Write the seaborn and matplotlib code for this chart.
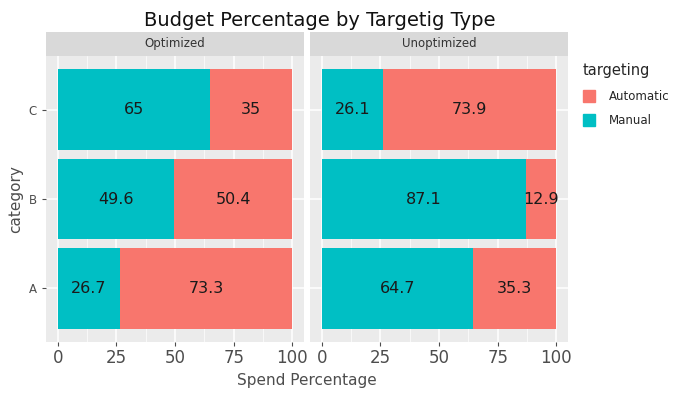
import matplotlib
matplotlib.use('Agg')
import matplotlib.pyplot as plt
from matplotlib.patches import Patch
import pandas as pd
import seaborn as sns

# 数据
categories = ['C', 'B', 'A']
panels = ['Optimized', 'Unoptimized']
manual_opt = [65, 49.6, 26.7]
auto_opt = [35, 50.4, 73.3]
manual_unopt = [26.1, 87.1, 64.7]
auto_unopt = [73.9, 12.9, 35.3]
x_ticks = [0, 25, 50, 75, 100]

teal = '#00BFC4'
salmon = '#F8766D'

sns.set_style('white')
plt.rcParams['font.family'] = ['DejaVu Sans']

fig = plt.figure(figsize=(6.98, 3.98), dpi=100)
W, H = 698, 398
panel_boxes = [(46, 304), (310, 568)]
top, bottom = 56, 342
strip_top = 32

data = {
    'Optimized': (manual_opt, auto_opt),
    'Unoptimized': (manual_unopt, auto_unopt),
}

for (x0, x1), name in zip(panel_boxes, panels):
    ax = fig.add_axes([x0 / W, 1 - bottom / H, (x1 - x0) / W, (bottom - top) / H])
    manual, auto = data[name]
    df = pd.DataFrame({'category': categories, 'Manual': manual, 'Automatic': auto})
    df['total'] = df['Manual'] + df['Automatic']
    ax.set_facecolor('#EBEBEB')
    # 网格
    for t in x_ticks:
        ax.axvline(t, color='white', lw=1.1, zorder=0)
    for t in [12.5, 37.5, 62.5, 87.5]:
        ax.axvline(t, color='white', lw=0.5, zorder=0)
    for i in range(len(categories)):
        ax.axhline(i, color='white', lw=1.1, zorder=0)
    sns.barplot(data=df, y='category', x='total', order=categories, color=salmon,
                width=0.9, saturation=1, linewidth=0, ax=ax, zorder=2)
    sns.barplot(data=df, y='category', x='Manual', order=categories, color=teal,
                width=0.9, saturation=1, linewidth=0, ax=ax, zorder=3)
    for i, row in df.iterrows():
        ax.text(row['Manual'] / 2, i, f"{row['Manual']:g}", ha='center', va='center',
                fontsize=11.5, color='#1a1a1a', zorder=4)
        ax.text(row['Manual'] + row['Automatic'] / 2, i, f"{row['Automatic']:g}",
                ha='center', va='center', fontsize=11.5, color='#1a1a1a', zorder=4)
    ax.set_xlim(-5, 105)
    ax.set_ylim(2.6, -0.6)
    ax.set_xticks(x_ticks)
    ax.tick_params(axis='x', labelsize=12, colors='#4D4D4D', length=3, width=0.8,
                   labelcolor='#4D4D4D', bottom=True, pad=2)
    ax.set_xlabel('')
    ax.set_ylabel('')
    for s in ax.spines.values():
        s.set_visible(False)
    if name == 'Optimized':
        ax.tick_params(axis='y', labelsize=8.5, labelcolor='#4D4D4D', length=3,
                       width=0.8, left=True, colors='#4D4D4D')
        ax.set_ylabel('category', fontsize=11, color='#4D4D4D')
    else:
        ax.set_yticklabels([])
        ax.tick_params(axis='y', left=False)
    # 分面标题
    sax = fig.add_axes([x0 / W, 1 - top / H, (x1 - x0) / W, (top - strip_top) / H])
    sax.set_facecolor('#D9D9D9')
    sax.set_xticks([])
    sax.set_yticks([])
    for s in sax.spines.values():
        s.set_visible(False)
    sax.text(0.5, 0.5, name, ha='center', va='center', fontsize=8.5, color='#333333',
             transform=sax.transAxes)

fig.text(320 / W, 1 - 20 / H, 'Budget Percentage by Targetig Type', ha='center',
         va='center', fontsize=14, color='#111111')
fig.text(307 / W, 1 - 381 / H, 'Spend Percentage', ha='center', va='center',
         fontsize=11, color='#4D4D4D')

handles = [Patch(color=salmon, label='Automatic'), Patch(color=teal, label='Manual')]
fig.legend(handles=handles, title='targeting', loc='upper left',
           bbox_to_anchor=(578 / W, 1 - 58 / H), frameon=False, fontsize=8.5,
           title_fontsize=10.5, handlelength=1.0, handleheight=1.2,
           labelspacing=1.0, handletextpad=1.2, borderaxespad=0,
           alignment='left')

fig.savefig('out.png', dpi=100)
